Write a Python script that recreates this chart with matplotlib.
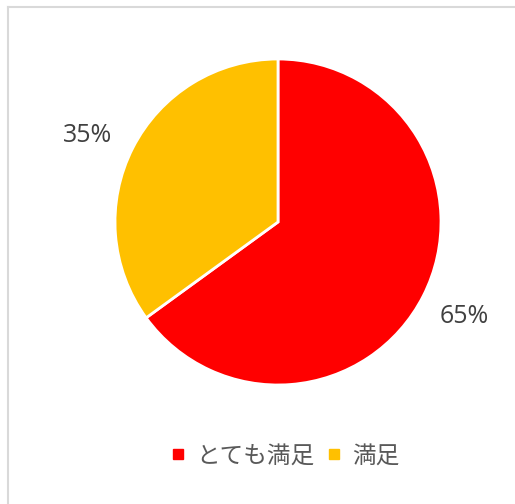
import matplotlib.pyplot as plt
from matplotlib.lines import Line2D

plt.rcParams['font.family'] = ['Noto Sans CJK JP', 'DejaVu Sans']

labels = ['とても満足', '満足']
values = [65, 35]
colors = ['#FF0000', '#FFC000']

fig = plt.figure(figsize=(5.15, 5.04), dpi=100)

# light grey chart border (only top and left are in view)
border = dict(color='#d9d9d9', linewidth=1.5, transform=fig.transFigure)
fig.add_artist(Line2D([8 / 515, 1], [1 - 7 / 504, 1 - 7 / 504], **border))
fig.add_artist(Line2D([8 / 515, 8 / 515], [0, 1 - 7 / 504], **border))

ax = fig.add_axes([(278 - 163) / 515, 1 - (222 + 163) / 504, 326 / 515, 326 / 504])
wedges, texts, autotexts = ax.pie(
    values, colors=colors, startangle=90, counterclock=False,
    autopct='%1.0f%%', pctdistance=1.28,
    wedgeprops=dict(edgecolor='white', linewidth=2),
    textprops=dict(fontsize=18, color='#404040', family=['Open Sans', 'DejaVu Sans']))
ax.set_xlim(-1, 1)
ax.set_ylim(-1, 1)
ax.set_aspect('equal')

# nudge the 35% label toward where the reference puts it
x, y = autotexts[1].get_position()
autotexts[1].set_position((x - 0.03, y - 0.05))

handles = [Line2D([], [], marker='s', linestyle='none', markersize=7,
                  markerfacecolor=c, markeredgecolor=c) for c in colors]
fig.legend(handles, labels, loc='center', bbox_to_anchor=(284 / 515, 1 - 456 / 504),
           ncol=2, frameon=False, fontsize=17, labelcolor='#595959',
           handletextpad=0.4, columnspacing=0.4, handlelength=0.8)

fig.savefig('out.png', dpi=100)
